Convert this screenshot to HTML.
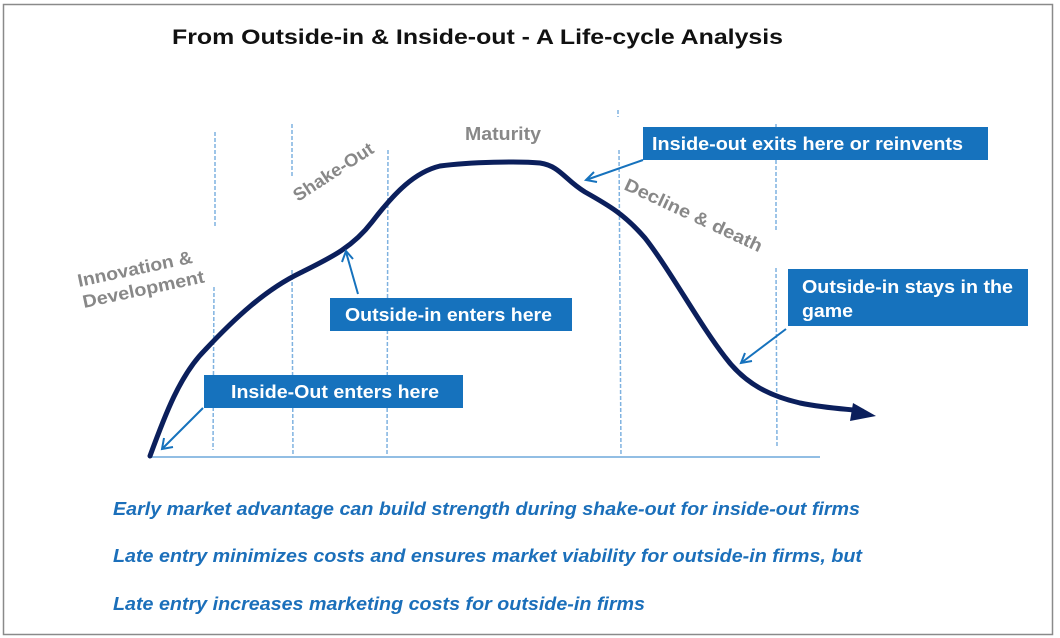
<!DOCTYPE html>
<html><head><meta charset="utf-8"><style>
html,body{margin:0;padding:0;background:#fff;}
svg{display:block;font-family:"Liberation Sans",Arial,sans-serif;}
</style></head><body>
<svg width="1060" height="638" viewBox="0 0 1060 638" xmlns="http://www.w3.org/2000/svg">
<rect x="3.5" y="4.5" width="1049" height="630" fill="#fff" stroke="#8a8a8a" stroke-width="1.5"/>
<text x="172" y="44" font-size="21" font-weight="bold" fill="#111" textLength="611" lengthAdjust="spacingAndGlyphs">From Outside-in &amp; Inside-out  - A Life-cycle Analysis</text>
<g stroke="#7fb2e0" stroke-width="1.5" stroke-dasharray="4,2" fill="none">
<line x1="215" y1="132" x2="215" y2="228"/><line x1="214" y1="287" x2="213" y2="450"/>
<line x1="292" y1="124" x2="292" y2="177"/><line x1="292" y1="270" x2="293" y2="456"/>
<line x1="388" y1="150" x2="387" y2="455"/>
<line x1="618" y1="110" x2="618" y2="117"/><line x1="619" y1="150" x2="621" y2="456"/>
<line x1="776" y1="124" x2="776" y2="232"/><line x1="776" y1="268" x2="777" y2="447"/>
</g>
<line x1="148" y1="457" x2="820" y2="457" stroke="#6fa8dc" stroke-width="1.5"/>
<path d="M150,456 C165,415 180,375 205,350 C235,318 265,290 300,273 C330,258 352,248 372,222 C395,192 415,172 440,166 C470,162 520,161 540,163 C560,166 565,180 585,192 C610,206 625,215 645,238 C670,270 700,325 725,357 C745,384 770,396 800,403 C830,409 850,409 862,411" fill="none" stroke="#0b1f5c" stroke-width="5" stroke-linecap="round"/>
<polygon points="853,403 876,416 850,421" fill="#0b1f5c"/>
<text x="465" y="140" font-size="18" font-weight="bold" fill="#888" textLength="76" lengthAdjust="spacingAndGlyphs">Maturity</text>
<text transform="translate(298,202) rotate(-33)" font-size="18" font-weight="bold" fill="#888" textLength="92" lengthAdjust="spacingAndGlyphs">Shake-Out</text>
<text transform="translate(79,287) rotate(-12)" font-size="18" font-weight="bold" fill="#888" textLength="117" lengthAdjust="spacingAndGlyphs">Innovation &amp;</text>
<text transform="translate(84,308) rotate(-12)" font-size="18" font-weight="bold" fill="#888" textLength="124" lengthAdjust="spacingAndGlyphs">Development</text>
<text transform="translate(623,189) rotate(25)" font-size="18" font-weight="bold" fill="#888" textLength="150" lengthAdjust="spacingAndGlyphs">Decline &amp; death</text>
<g fill="#1672bd">
<rect x="204" y="375" width="259" height="33"/>
<rect x="330" y="298" width="242" height="33"/>
<rect x="643" y="127" width="345" height="33"/>
<rect x="788" y="269" width="240" height="57"/>
</g>
<g fill="#fff" font-size="18" font-weight="bold" lengthAdjust="spacingAndGlyphs">
<text x="231" y="398" textLength="208" lengthAdjust="spacingAndGlyphs">Inside-Out enters here</text>
<text x="345" y="321" textLength="207" lengthAdjust="spacingAndGlyphs">Outside-in enters here</text>
<text x="652" y="150" textLength="311" lengthAdjust="spacingAndGlyphs">Inside-out exits here or reinvents</text>
<text x="802" y="293" textLength="211" lengthAdjust="spacingAndGlyphs">Outside-in stays in the</text>
<text x="802" y="317" textLength="51" lengthAdjust="spacingAndGlyphs">game</text>
</g>
<g stroke="#1672bd" stroke-width="2" fill="none">
<line x1="203" y1="408" x2="163" y2="448"/><polyline points="164,438 162,449 173,447"/>
<line x1="358" y1="294" x2="346" y2="252"/><polyline points="342,262 346,251 353,259"/>
<line x1="643" y1="160" x2="586" y2="180"/><polyline points="594,172 586,180 597,182"/>
<line x1="786" y1="329" x2="741" y2="363"/><polyline points="745,353 741,363 752,361"/>
</g>
<g fill="#1b6fba" font-size="18" font-weight="bold" font-style="italic">
<text x="113" y="515" textLength="747" lengthAdjust="spacingAndGlyphs">Early market advantage can build strength during shake-out for inside-out firms</text>
<text x="113" y="562" textLength="749" lengthAdjust="spacingAndGlyphs">Late entry minimizes costs and ensures market viability for outside-in firms, but</text>
<text x="113" y="610" textLength="532" lengthAdjust="spacingAndGlyphs">Late entry increases marketing costs for outside-in firms</text>
</g>
</svg>
</body></html>
